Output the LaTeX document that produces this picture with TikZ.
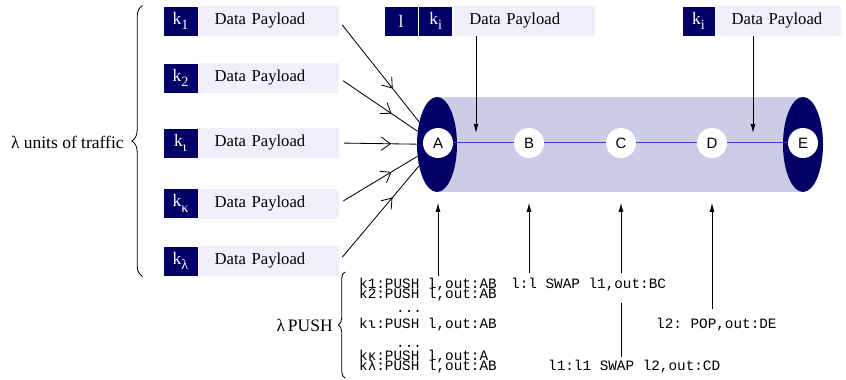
\documentclass[tikz,border=0pt]{standalone}
\usepackage{fontspec}
\setmainfont{Liberation Serif}
\setsansfont{Liberation Sans}
\setmonofont{Liberation Mono}
\usetikzlibrary{positioning,shapes.geometric,decorations.pathreplacing,decorations.markings,arrows.meta}

\definecolor{keyblue}{RGB}{0,0,102}
\definecolor{payfill}{RGB}{240,240,250}
\definecolor{tubefill}{RGB}{204,204,230}
\definecolor{wireblue}{RGB}{60,60,200}

% key with a low, large subscript
\newcommand{\keysub}[1]{k\raisebox{-3.5pt}{\fontsize{8.5}{9}\selectfont #1}}

\tikzset{
    keybox/.style={fill=keyblue, draw=white, line width=0.5pt, text=white, minimum width=21pt, minimum height=18pt, inner sep=0pt, font=\fontsize{10.5}{12}\selectfont},
    payload/.style={fill=payfill, minimum height=18pt, inner ysep=0pt, inner xsep=9.5pt, text width=65pt, align=left, font=\fontsize{10}{12}\selectfont},
    endcap/.style={ellipse, fill=keyblue, minimum width=24pt, minimum height=57pt, inner sep=0pt},
    station/.style={circle, fill=white, minimum size=18pt, inner sep=0pt, font=\sffamily\fontsize{9}{10}\selectfont},
    wire/.style={wireblue, line width=0.6pt},
    feed/.style={line width=0.5pt, shorten <=3pt, postaction={decorate}, decoration={markings, mark=at position 0.67 with {\arrow{Straight Barb[length=5.5pt,width=8pt]}}}},
    dropin/.style={-{Latex[length=5.5pt,width=3pt]}, line width=0.5pt, shorten >=6pt},
    lift/.style={-{Latex[length=5.5pt,width=3pt]}, line width=0.5pt, shorten >=6.3pt},
    cmd/.style={anchor=base west, inner sep=0.5pt, font=\ttfamily\fontsize{8.6}{9}\selectfont},
    curly/.style={decorate, decoration={brace, amplitude=#1}, line width=0.5pt},
    label/.style={anchor=east, inner sep=0pt, font=\fontsize{10.5}{12}\selectfont}
}

\begin{document}
\begin{tikzpicture}[x=0.6pt, y=-0.6pt]
    \useasboundingbox (0,0) rectangle (846,380);

    % incoming packets
    \node[keybox] (k1) at (180.5,21) {\keysub{1}};
    \node[payload, right=0pt of k1] (pay1) {Data Payload};
    \node[keybox] (k2) at (180.5,78) {\keysub{2}};
    \node[payload, right=0pt of k2] (pay2) {Data Payload};
    \node[keybox] (k3) at (180.5,143) {\keysub{ι}};
    \node[payload, right=0pt of k3] (pay3) {Data Payload};
    \node[keybox] (k4) at (180.5,203.5) {\keysub{κ}};
    \node[payload, right=0pt of k4] (pay4) {Data Payload};
    \node[keybox] (k5) at (180.5,261) {\keysub{λ}};
    \node[payload, right=0pt of k5] (pay5) {Data Payload};

    \draw[curly=6.5pt] ([xshift=-12pt]k5.south west) -- ([xshift=-12pt]k1.north west);
    \node[label] (traffic) at (124,142) {λ units of traffic};

    % packets on the path
    \node[keybox, minimum width=20.4pt] (lbl) at (401,21) {l};
    \node[keybox, minimum width=20.4pt, right=0pt of lbl] (ki1) {\keysub{i}};
    \node[payload, text width=65.6pt, right=0pt of ki1] (pay6) {Data Payload};
    \node[keybox, minimum width=19.8pt] (ki2) at (698.5,21) {\keysub{i}};
    \node[payload, text width=56pt, right=0pt of ki2] (pay7) {Data Payload};

    % tunnel
    \fill[tubefill] (437,97) rectangle (803,192);
    \node[endcap] (capL) at (437,144.5) {};
    \node[endcap] (capR) at (803,144.5) {};

    \node[station] (A) at (438,143) {A};
    \node[station] (B) at (529,143) {B};
    \node[station] (C) at (621,143) {C};
    \node[station] (D) at (712,143) {D};
    \node[station] (E) at (803,143) {E};
    \draw[wire] (A) -- (B) -- (C) -- (D) -- (E);

    \draw[feed] (pay1.east) -- (capL);
    \draw[feed] (pay2.east) -- (capL);
    \draw[feed] (pay3.east) -- (capL);
    \draw[feed] (pay4.east) -- (capL);
    \draw[feed] (pay5.east) -- (capL);

    \coordinate (drop1) at (476,143);
    \coordinate (drop2) at (753,143);
    \draw[dropin] (pay6.south -| drop1) -- (drop1);
    \draw[dropin] (pay7.south -| drop2) -- (drop2);

    % label operations
    \node[cmd] (push1) at (358,288) {k1:PUSH l,out:AB};
    \node[cmd] (push2) at (358,298) {k2:PUSH l,out:AB};
    \node[cmd] (dots1) at (395,312) {...};
    \node[cmd] (push3) at (358,328) {kι:PUSH l,out:AB};
    \node[cmd] (dots2) at (395,347) {...};
    \node[cmd] (push4) at (358,360) {kκ:PUSH l,out:A};
    \node[cmd] (push5) at (358,370) {kλ:PUSH l,out:AB};

    \draw[curly=4pt] (345,378) -- (345,272);
    \node[label] (pushes) at (333,325) {λ\,PUSH};

    \node[cmd, text height=7pt] (swapCD) at (547,370) {l1:l1 SWAP l2,out:CD};
    \draw[lift] (swapCD.north -| C) -- (C |- capL.south);
    \node[cmd, fill=white, inner ysep=0pt, text height=9pt, text depth=9pt] (swapBC) at (510,288) {l:l SWAP l1,out:BC};
    \node[cmd, text height=10.5pt] (pop) at (655,328) {l2: POP,out:DE};

    \draw[lift] (push1.north -| A) -- (A |- capL.south);
    \draw[lift] (swapBC.north -| B) -- (B |- capL.south);
    \draw[lift] (pop.north -| D) -- (D |- capL.south);

\end{tikzpicture}
\end{document}
